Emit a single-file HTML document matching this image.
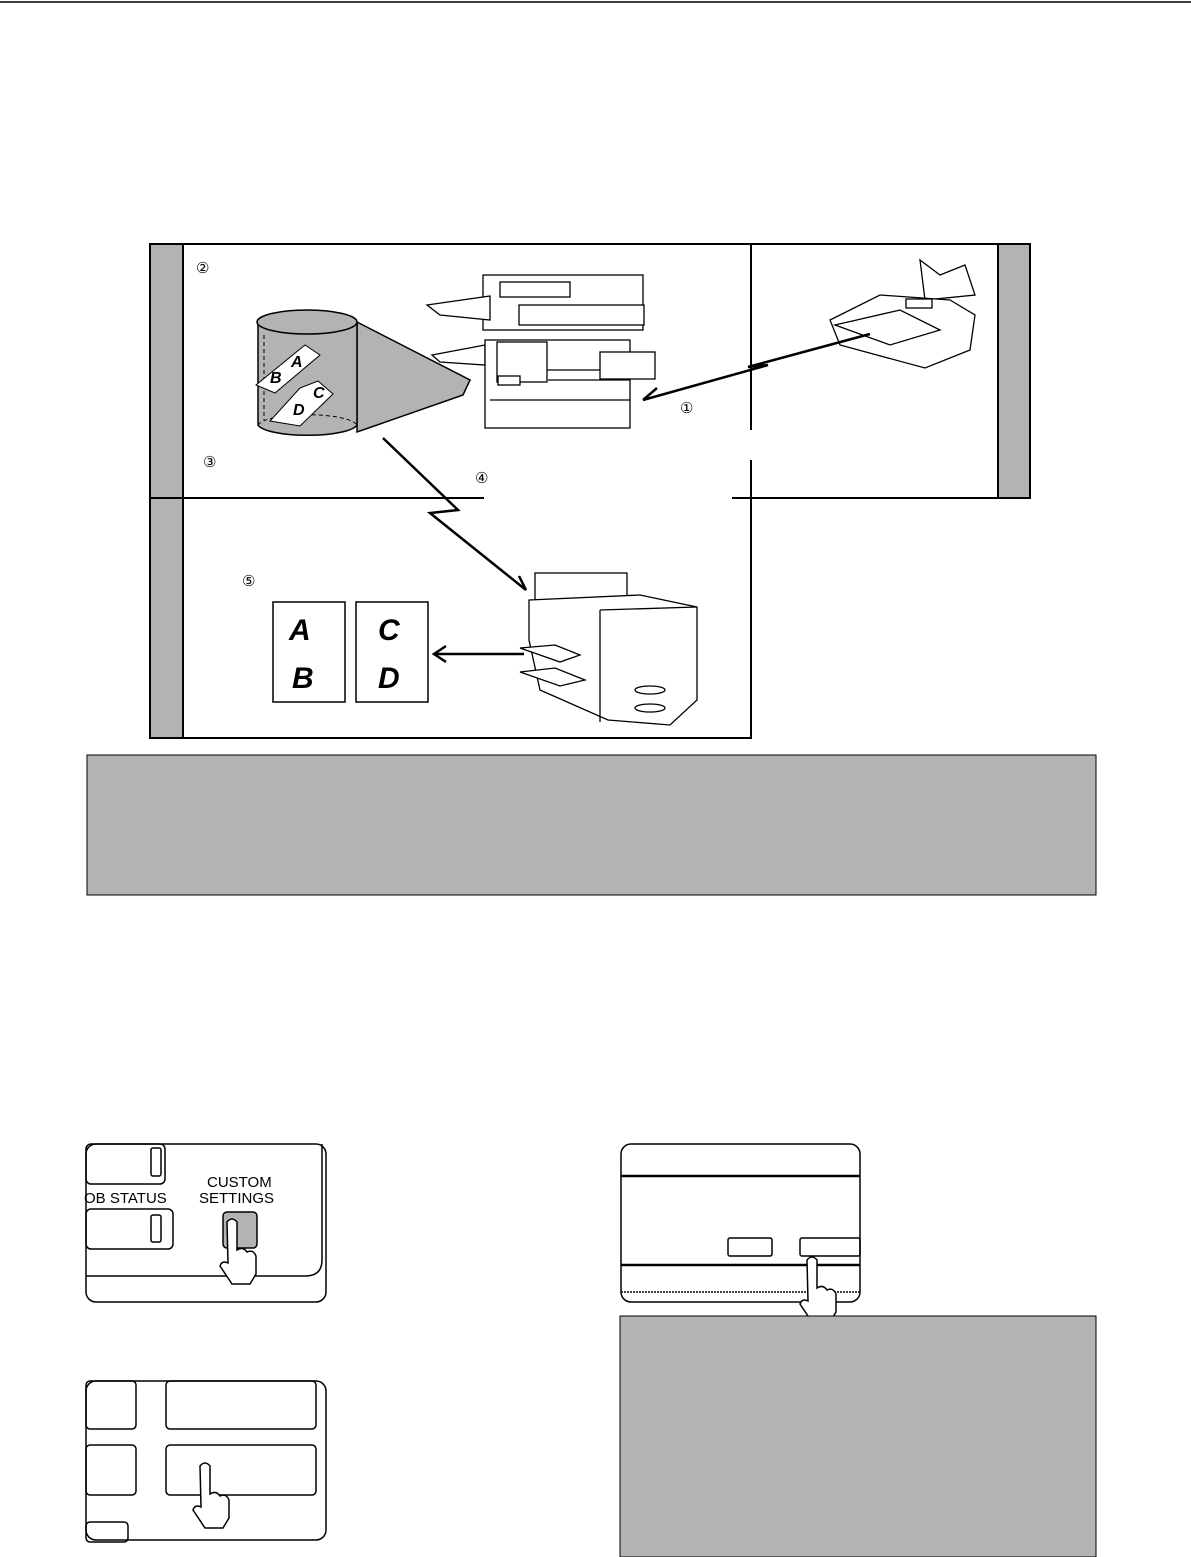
<!DOCTYPE html>
<html><head><meta charset="utf-8"><style>
html,body{margin:0;padding:0;background:#fff}
svg{display:block}
text{font-family:"Liberation Sans",sans-serif}
</style></head><body>
<svg width="1191" height="1557" viewBox="0 0 1191 1557" xmlns="http://www.w3.org/2000/svg">
<defs>
<g id="hand" fill="#fff" stroke="#000" stroke-width="1.5">
<path d="M0,0 q5,-6 10,0 l0,28 q6,-4 10,2 q6,-3 9,4 l0,18 l-6,10 l-18,0 l-12,-18 q2,-6 8,-3 z"/>
</g>
</defs>
<line x1="0" y1="2" x2="1191" y2="2" stroke="#000" stroke-width="1.5"/>
<g stroke="#000" stroke-width="2" fill="none">
<rect x="150" y="244" width="880" height="254"/>
<polyline points="150,498 150,738 751,738 751,460"/>
<line x1="751" y1="244" x2="751" y2="430"/>
</g>
<rect x="151" y="245" width="32" height="492" fill="#b3b3b3"/>
<rect x="998" y="245" width="31" height="252" fill="#b3b3b3"/>
<line x1="183" y1="244" x2="183" y2="738" stroke="#000" stroke-width="2"/>
<line x1="998" y1="244" x2="998" y2="498" stroke="#000" stroke-width="2"/>
<rect x="484" y="490" width="248" height="14" fill="#fff"/>
<line x1="150" y1="498" x2="483" y2="498" stroke="#000" stroke-width="2"/>
<line x1="733" y1="498" x2="1030" y2="498" stroke="#000" stroke-width="2"/>
<g font-size="15">
<text x="196" y="273">②</text><text x="203" y="467">③</text><text x="475" y="483">④</text><text x="680" y="413">①</text><text x="242" y="586">⑤</text>
</g>
<polygon points="357,322 470,380 463,395 357,432" fill="#b3b3b3" stroke="#000" stroke-width="1.5"/>
<path d="M258,322 L258,425 A50,12 0 0 0 357,425 L357,322 Z" fill="#b3b3b3" stroke="#000" stroke-width="1.5"/>
<ellipse cx="307" cy="322" rx="50" ry="12" fill="#b3b3b3" stroke="#000" stroke-width="1.5"/>
<path d="M258,425 A50,12 0 0 1 357,425" fill="none" stroke="#000" stroke-dasharray="4,3"/>
<line x1="264" y1="335" x2="264" y2="420" stroke="#000" stroke-dasharray="4,3"/>
<polygon points="305,345 256,385 275,393 320,355" fill="#fff" stroke="#000"/>
<polygon points="300,388 270,421 300,426 333,394 318,381" fill="#fff" stroke="#000"/>
<g font-family="Liberation Serif" font-style="italic" font-weight="bold" font-size="16">
<text x="291" y="367">A</text><text x="270" y="383">B</text><text x="313" y="398">C</text><text x="293" y="415">D</text></g>
<g fill="#fff" stroke="#000" stroke-width="1.3">
<rect x="483" y="275" width="160" height="55"/>
<rect x="500" y="282" width="70" height="15"/>
<rect x="519" y="305" width="125" height="20"/>
<polygon points="427,305 490,296 490,320 440,315" />
<polygon points="432,355 485,345 485,365 440,362"/>
<rect x="485" y="340" width="145" height="88"/>
<rect x="497" y="342" width="50" height="40"/>
<rect x="600" y="352" width="55" height="27"/>
<rect x="498" y="376" width="22" height="9"/>
<line x1="547" y1="370" x2="600" y2="370"/>
<line x1="548" y1="380" x2="630" y2="380"/>
<line x1="490" y1="400" x2="630" y2="400"/>
</g>
<rect x="430" y="429" width="320" height="12" fill="#fff"/>
<g fill="#fff" stroke="#000" stroke-width="1.3">
<polygon points="920,260 940,275 965,265 975,295 925,300"/>
<polygon points="830,320 880,295 950,300 975,315 970,350 925,368 840,345"/>
<polygon points="835,325 900,310 940,330 890,345"/>
<rect x="906" y="299" width="26" height="9"/>
</g>
<g stroke="#000" stroke-width="2.5" fill="none">
<polyline points="870,334 748,367 768,365 643,400"/>
<polyline points="643,400 657,388 M643,400 660,401"/>
<polyline points="383,438 458,510 430,513 526,590"/>
<polyline points="526,590 519,576 M526,590 511,587"/>
<line x1="524" y1="654" x2="434" y2="654"/>
<polyline points="446,646 434,654 446,662"/>
</g>
<g fill="#fff" stroke="#000" stroke-width="1.3">
<rect x="535" y="573" width="92" height="28"/>
<polygon points="529,600 640,595 697,607 697,700 670,725 608,720 540,690 529,640"/>
<line x1="600" y1="610" x2="600" y2="722"/>
<line x1="600" y1="610" x2="697" y2="607"/>
<polygon points="520,648 555,645 580,655 560,662"/>
<polygon points="520,672 555,668 585,680 560,686"/>
<ellipse cx="650" cy="690" rx="15" ry="4"/><ellipse cx="650" cy="708" rx="15" ry="4"/>
</g>
<g fill="#fff" stroke="#000" stroke-width="1.5">
<rect x="273" y="602" width="72" height="100"/><rect x="356" y="602" width="72" height="100"/></g>
<g font-family="Liberation Serif" font-style="italic" font-weight="bold" font-size="30">
<text x="289" y="640">A</text><text x="292" y="688">B</text><text x="378" y="640">C</text><text x="378" y="688">D</text></g>
<rect x="87" y="755" width="1009" height="140" fill="#b3b3b3" stroke="#000" stroke-width="1"/>
<g fill="none" stroke="#000" stroke-width="1.5">
<rect x="86" y="1144" width="240" height="158" rx="10"/>
<path d="M86,1276 L305,1276 Q322,1276 322,1260 L322,1144"/>
<rect x="86" y="1144" width="79" height="40" rx="5"/>
<rect x="151" y="1148" width="10" height="28" rx="2"/>
<rect x="86" y="1209" width="87" height="40" rx="5"/>
<rect x="151" y="1215" width="10" height="27" rx="2"/>
</g>
<rect x="223" y="1212" width="34" height="36" rx="4" fill="#b3b3b3" stroke="#000" stroke-width="1.5"/>
<text x="84" y="1203" font-size="15">OB STATUS</text>
<text x="207" y="1187" font-size="15">CUSTOM</text>
<text x="199" y="1203" font-size="15">SETTINGS</text>
<use href="#hand" x="227" y="1222"/>
<g fill="none" stroke="#000" stroke-width="1.5">
<rect x="86" y="1381" width="240" height="159" rx="10"/>
<rect x="86" y="1381" width="50" height="48" rx="4"/>
<rect x="166" y="1381" width="150" height="48" rx="4"/>
<rect x="86" y="1445" width="50" height="50" rx="4"/>
<rect x="166" y="1445" width="150" height="50" rx="4"/>
<rect x="86" y="1522" width="42" height="20" rx="4"/>
</g>
<use href="#hand" x="200" y="1466"/>
<g fill="none" stroke="#000" stroke-width="1.5">
<rect x="621" y="1144" width="239" height="158" rx="10"/>
<line x1="621" y1="1176" x2="860" y2="1176" stroke-width="2.5"/>
<line x1="621" y1="1265" x2="860" y2="1265" stroke-width="2.5"/>
<line x1="621" y1="1292" x2="860" y2="1292" stroke-dasharray="2,1"/>
<rect x="728" y="1238" width="44" height="18" rx="2"/>
<rect x="800" y="1238" width="60" height="18" rx="2"/>
</g>
<use href="#hand" x="807" y="1260"/>
<rect x="620" y="1316" width="476" height="241" fill="#b3b3b3" stroke="#000" stroke-width="1"/>
</svg>
</body></html>
